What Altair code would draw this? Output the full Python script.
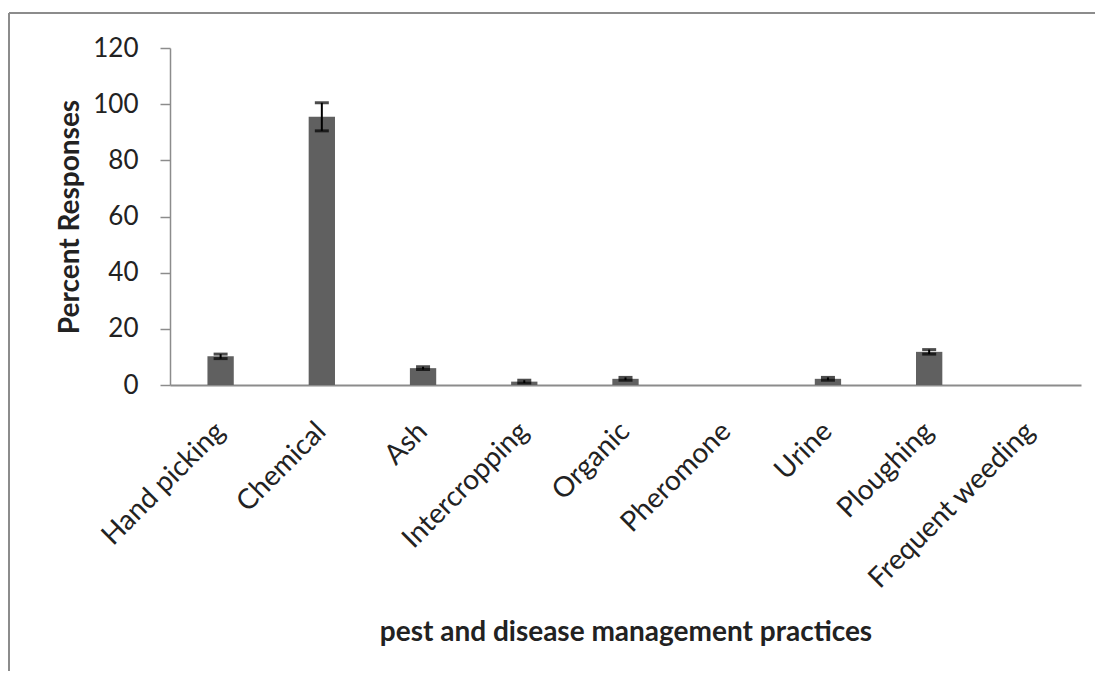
import altair as alt
import pandas as pd

categories = ["Hand picking", "Chemical", "Ash", "Intercropping", "Organic",
              "Pheromone", "Urine", "Ploughing", "Frequent weeding"]
values = [10.2, 95.5, 6.0, 1.2, 2.2, 0.0, 2.2, 11.8, 0.0]
errors = [0.8, 5.0, 0.5, 0.5, 0.5, 0.0, 0.5, 0.8, 0.0]

df = pd.DataFrame({"cat": categories, "val": values, "err": errors})
df["lo"] = df["val"] - df["err"]
df["hi"] = df["val"] + df["err"]
df_err = df[df["err"] > 0]

FONT = "Lato"
W, H = 911, 337
GRAY = "#8c8c8c"

x = alt.X("cat:N", sort=categories,
          scale=alt.Scale(paddingInner=0.74, paddingOuter=0.37),
          axis=alt.Axis(title="pest and disease management practices",
                        labelAngle=-45, labelAlign="right", labelBaseline="middle",
                        labelFontSize=28, labelColor="#222", labelPadding=42,
                        labelOffset=0, labelLimit=400,
                        ticks=False, domainColor=GRAY, domainWidth=2,
                        titleFontSize=28, titleFontWeight="bold", titleColor="#222",
                        titlePadding=33))
y = alt.Y("val:Q", scale=alt.Scale(domain=[0, 120]),
          axis=alt.Axis(title="Percent Responses", values=[0, 20, 40, 60, 80, 100, 120],
                        grid=False, tickSize=10, tickColor=GRAY, tickWidth=1.5,
                        domainColor=GRAY, domainWidth=1.5,
                        labelFontSize=26, labelColor="#222", labelPadding=22,
                        titleFontSize=28, titleFontWeight="bold", titleColor="#222",
                        titlePadding=8))

bars = alt.Chart(df).mark_bar(color="#606060").encode(x=x, y=y)

rules = alt.Chart(df_err).mark_rule(color="black", strokeWidth=2).encode(
    x=alt.X("cat:N", sort=categories), y="lo:Q", y2="hi:Q")
caps_hi = alt.Chart(df_err).mark_tick(color="black", thickness=3, size=14).encode(
    x=alt.X("cat:N", sort=categories), y="hi:Q")
caps_lo = alt.Chart(df_err).mark_tick(color="black", thickness=3, size=14).encode(
    x=alt.X("cat:N", sort=categories), y="lo:Q")

frame_top = alt.Chart(df.head(1)).mark_rule(color=GRAY, strokeWidth=2).encode(
    x=alt.value(-161), x2=alt.value(2000), y=alt.value(-35))
frame_left = alt.Chart(df.head(1)).mark_rule(color=GRAY, strokeWidth=2).encode(
    x=alt.value(-161), y=alt.value(-35), y2=alt.value(2000))

chart = alt.layer(frame_top, frame_left, bars, rules, caps_hi, caps_lo).properties(
    width=W, height=H,
    autosize=alt.AutoSizeParams(type="none"),
    padding={"left": 162, "top": 40, "right": 14, "bottom": 286},
).configure(font=FONT).configure_view(stroke=None)

chart.save("out.html", embed_options={"renderer": "svg", "actions": False})
